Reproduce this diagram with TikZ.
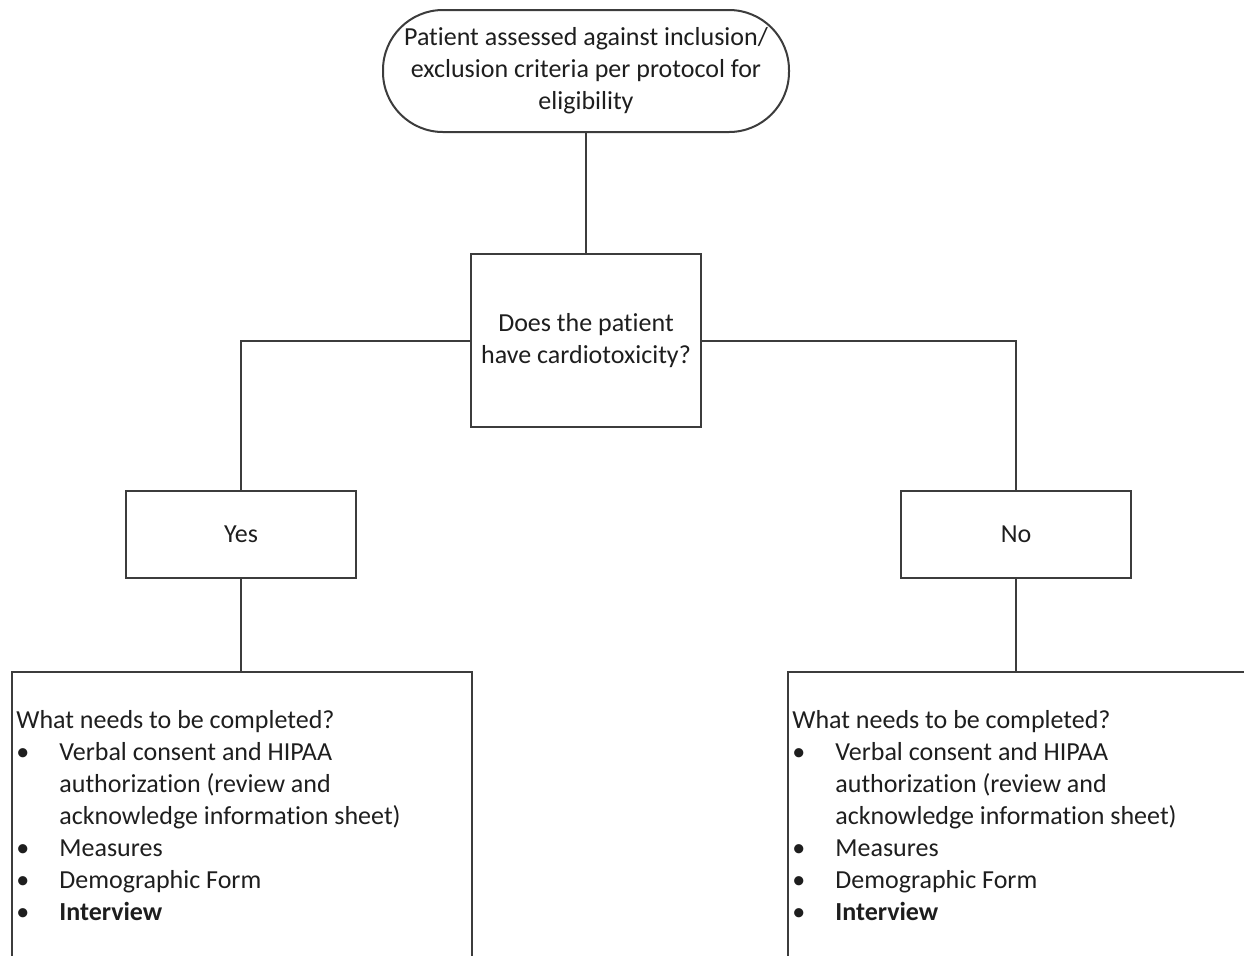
\documentclass[tikz,border=0pt]{standalone}
\usepackage{fontspec}
\setmainfont{Carlito}[Ligatures={NoCommon}]
\usepackage{tikz}
\usetikzlibrary{shapes, positioning}
\definecolor{linegray}{RGB}{60,60,60}
\definecolor{textgray}{RGB}{30,30,30}
\tikzstyle{startnode} = [draw=linegray, line width=1pt, rounded corners=30pt, minimum width=203pt, minimum height=61pt, align=center, inner sep=0pt]
\tikzstyle{qbox} = [draw=linegray, line width=1pt, minimum width=115pt, align=center, inner sep=0pt]
\tikzstyle{listbox} = [draw=linegray, line width=1pt, minimum width=230pt, minimum height=200pt, anchor=north west, inner sep=0pt]
\tikzstyle{listtext} = [anchor=north west, align=left, inner sep=0pt]
\tikzstyle{line} = [draw=linegray, line width=1pt]
\newcommand{\needslist}{%
  \begin{tabular}{@{}p{21.5pt}@{}l@{}}
  \multicolumn{2}{@{}l@{}}{What needs to be completed?}\\
  \textbullet & Verbal consent and HIPAA\\
   & authorization (review and\\
   & acknowledge information sheet)\\
  \textbullet & Measures\\
  \textbullet & Demographic Form\\
  \textbullet & \textbf{Interview}
  \end{tabular}}

\begin{document}
\begin{tikzpicture}[x=0.5pt, y=-0.5pt, font=\fontsize{13}{16}\selectfont, text=textgray]
			\useasboundingbox (0,0) rectangle (1244,955);
			\clip (0,0) rectangle (1244,955);
			\node [startnode] (start) at (586, 71) {Patient assessed against inclusion/\\exclusion criteria per protocol for\\eligibility};
			\node [qbox, minimum height=86.5pt] (question) at (586, 340.5) {Does the patient\\have cardiotoxicity?};
			\node [qbox, minimum height=43.5pt] (yes) at (241, 534.5) {Yes};
			\node [qbox, minimum height=43.5pt] (no) at (1016, 534.5) {No};
			\node [listbox] (yeslist) at (11, 671) {};
			\node [listbox] (nolist) at (787, 671) {};
			\node [listtext] (yestext) at (16, 706) {\needslist};
			\node [listtext] (notext) at (792, 706) {\needslist};
			
			\path [line] (start) -- (question);
			\path [line] (question.west) -| (yes);
			\path [line] (question.east) -| (no);
			\path [line] (yes) -- (yes |- yeslist.north);
			\path [line] (no) -- (no |- nolist.north);
		\end{tikzpicture}
\end{document}
